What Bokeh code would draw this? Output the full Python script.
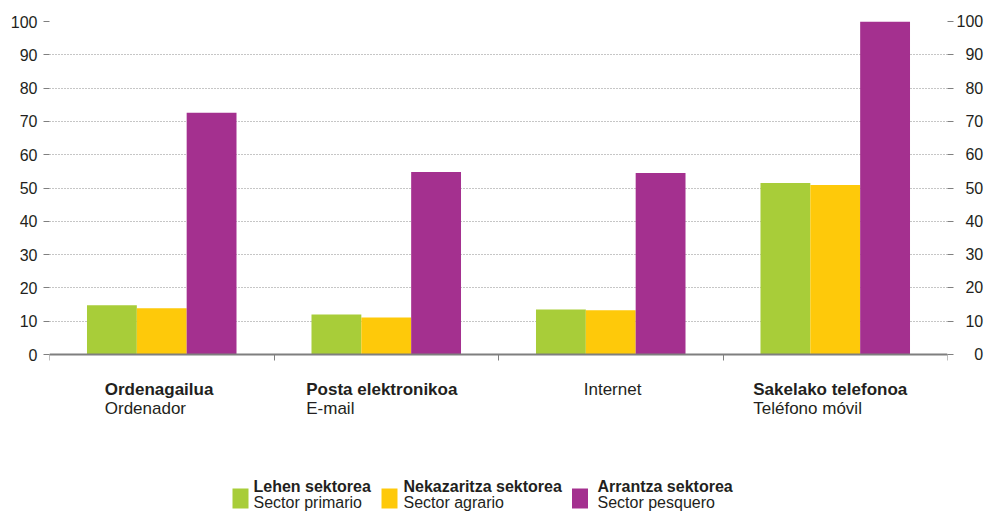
from bokeh.plotting import figure
from bokeh.models import Range1d, FixedTicker, LinearAxis, ColumnDataSource
from bokeh.core.properties import value
from bokeh.embed import file_html
from bokeh.resources import INLINE

# ---- data ----
labels_eu = ["Ordenagailua", "Posta elektronikoa", "Internet", "Sakelako telefonoa"]
labels_es = ["Ordenador", "E-mail", "Internet", "Teléfono móvil"]
series_eu = ["Lehen sektorea", "Nekazaritza sektorea", "Arrantza sektorea"]
series_es = ["Sector primario", "Sector agrario", "Sector pesquero"]
lehen = [14.8, 12.0, 13.5, 51.5]
nekazaritza = [13.9, 11.1, 13.3, 50.9]
arrantza = [72.6, 54.8, 54.5, 100.0]
y_ticks = [0, 10, 20, 30, 40, 50, 60, 70, 80, 90, 100]

# ---- styles / layout ----
colors = ["#a8cd39", "#fec90a", "#a4308f"]
FONT = "Liberation Sans"
TXT = "#231f20"
AXC = "#7f7f7f"
bar_w = 0.222
label_offsets = [-57, -80, -27, -82]
CAT_FS = "17px"
LEG_FS = "16px"

W, H = 986, 514
B_LEFT, B_RIGHT, B_TOP = 49, 39, 21
ZERO_PX = 354                      # pixel row of the value axis' zero
ppu = (ZERO_PX - B_TOP) / 100.0    # pixels per value unit
y_min = -(H - ZERO_PX) / ppu
ncat = len(labels_eu)
ppx = (W - B_LEFT - B_RIGHT) / ncat
TSHIFT = 6                         # text baseline correction (px)


def ydat(py):
    return (ZERO_PX - py + TSHIFT) / ppu


def xdat(px):
    return (px - B_LEFT) / ppx


p = figure(width=W, height=H, output_backend="svg", toolbar_location=None,
           x_range=Range1d(0, ncat), y_range=Range1d(y_min, 100),
           x_axis_location=None,
           min_border_left=B_LEFT, min_border_right=B_RIGHT,
           min_border_top=B_TOP, min_border_bottom=0)
p.outline_line_color = None
p.xgrid.grid_line_color = None
p.ygrid.ticker = FixedTicker(ticks=y_ticks)
p.ygrid.grid_line_color = "#8c8c8c"
p.ygrid.grid_line_dash = "1 2"
p.ygrid.grid_line_width = 1

series = [lehen, nekazaritza, arrantza]
for k, vals in enumerate(series):
    xs = [i + 0.5 + (k - 1) * bar_w for i in range(len(vals))]
    p.vbar(x=xs, top=vals, bottom=0, width=bar_w, color=colors[k],
           line_color=None)


def style_y(ax, standoff):
    ax.ticker = FixedTicker(ticks=y_ticks)
    ax.axis_line_color = None
    ax.major_tick_in = 0
    ax.major_tick_out = 6
    ax.major_tick_line_color = AXC
    ax.minor_tick_line_color = None
    ax.major_label_text_font = FONT
    ax.major_label_text_font_size = "16px"
    ax.major_label_text_color = TXT
    ax.major_label_standoff = standoff


style_y(p.yaxis[0], 6)
ry = LinearAxis()
style_y(ry, 3)
# right-aligned labels on the right axis (pad with figure spaces)
ry.major_label_overrides = {t: "\u2007" * (3 - len(str(t))) + str(t) for t in y_ticks}
p.add_layout(ry, "right")

# category axis line at value 0, ticks at category boundaries pointing down
xa = LinearAxis(fixed_location=0)
xa.ticker = FixedTicker(ticks=list(range(ncat + 1)))
xa.axis_line_color = AXC
xa.axis_line_width = 2
xa.major_tick_in = 6
xa.major_tick_out = 0
xa.major_tick_line_color = AXC
xa.minor_tick_line_color = None
xa.major_label_text_alpha = 0
xa.major_label_text_font_size = "1px"
p.add_layout(xa, "above")

# category labels (two lines: Basque bold, Spanish regular)
bold_x, bold_t, bold_o = [], [], []
reg_x, reg_y, reg_t, reg_o = [], [], [], []
for i, (eu, es) in enumerate(zip(labels_eu, labels_es)):
    if eu == es:
        reg_x.append(i + 0.5); reg_y.append(ydat(395)); reg_t.append(es)
        reg_o.append(label_offsets[i])
    else:
        bold_x.append(i + 0.5); bold_t.append(eu); bold_o.append(label_offsets[i])
        reg_x.append(i + 0.5); reg_y.append(ydat(414)); reg_t.append(es)
        reg_o.append(label_offsets[i])

p.text(source=ColumnDataSource(dict(x=bold_x, y=[ydat(395)] * len(bold_x),
                                    t=bold_t, o=bold_o)),
       x="x", y="y", text="t", x_offset="o", text_font=value(FONT),
       text_font_size=CAT_FS, text_font_style="bold", text_color=TXT,
       text_align="left", text_baseline="alphabetic")
p.text(source=ColumnDataSource(dict(x=reg_x, y=reg_y, t=reg_t, o=reg_o)),
       x="x", y="y", text="t", x_offset="o", text_font=value(FONT),
       text_font_size=CAT_FS, text_color=TXT,
       text_align="left", text_baseline="alphabetic")

# legend
sw_px = [240, 389, 579.5]
tx_px = [253, 403, 597]
p.rect(x=[xdat(v) for v in sw_px], y=ydat(498 + TSHIFT), width=16, height=20,
       width_units="screen", height_units="screen", color=colors,
       line_color=None)
p.text(x=[xdat(v) for v in tx_px], y=ydat(491.5), text=series_eu,
       text_font=value(FONT), text_font_size=LEG_FS, text_font_style="bold",
       text_color=TXT, text_baseline="alphabetic", text_align="left")
p.text(x=[xdat(v) for v in tx_px], y=ydat(507.5), text=series_es,
       text_font=value(FONT), text_font_size=LEG_FS, text_color=TXT,
       text_baseline="alphabetic", text_align="left")

open("out.html", "w").write(file_html(p, INLINE))
